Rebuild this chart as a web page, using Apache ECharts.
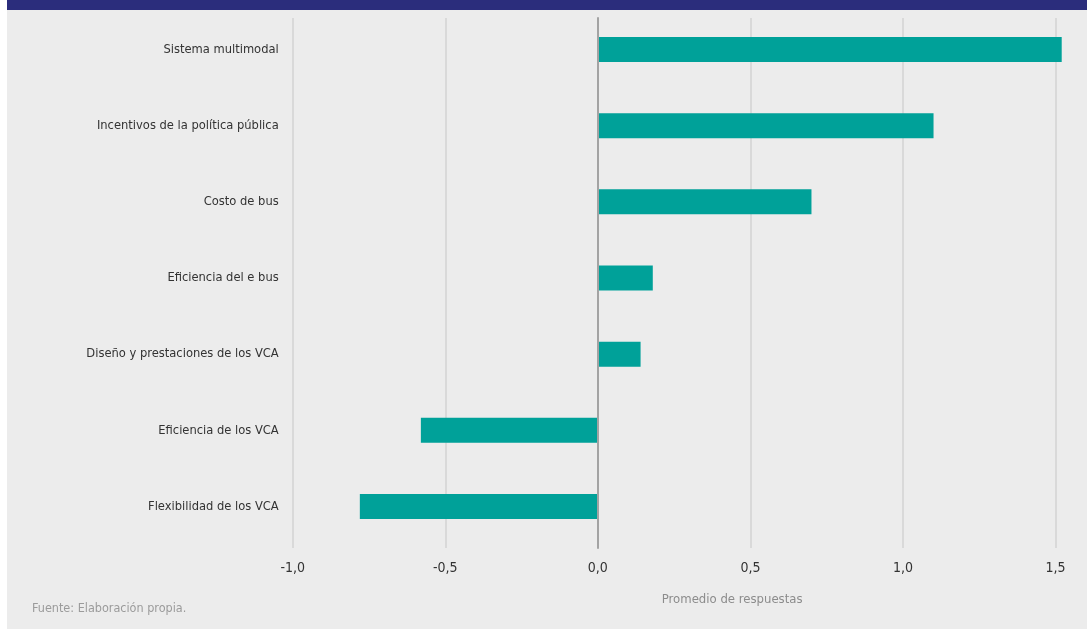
<!DOCTYPE html>
<html>
<head>
<meta charset="utf-8">
<script src="https://cdn.jsdelivr.net/npm/echarts@6/dist/echarts.min.js"></script>
<style>
  html, body { margin: 0; padding: 0; background: #ffffff; }
  #chart { width: 1087px; height: 631px; }
</style>
</head>
<body>
<div id="chart"></div>
<script>
// Factores evaluados (de arriba hacia abajo)
const categories = [
  'Sistema multimodal',
  'Incentivos de la política pública',
  'Costo de bus',
  'Eficiencia del e bus',
  'Diseño y prestaciones de los VCA',
  'Eficiencia de los VCA',
  'Flexibilidad de los VCA'
];
// Promedio de respuestas por factor
const values = [1.52, 1.10, 0.70, 0.18, 0.14, -0.58, -0.78];
// Escala del eje horizontal
const axisMin = -1.0;
const axisMax = 1.5;
const axisStep = 0.5;

const FONT = '"DejaVu Sans Condensed", "DejaVu Sans", sans-serif';
const chart = echarts.init(document.getElementById('chart'), null, { renderer: 'canvas' });

const fmt = v => v.toFixed(1).replace('.', ',');

chart.setOption({
  backgroundColor: '#ffffff',
  animation: false,
  textStyle: { fontFamily: FONT },
  graphic: [
    { type: 'rect', z: -10, shape: { x: 7, y: 0, width: 1080, height: 629 }, style: { fill: '#ececec' } },
    { type: 'rect', z: -9, shape: { x: 7, y: 0, width: 1080, height: 10 }, style: { fill: '#2b2d7c' } },
    { type: 'text', left: 32, top: 602, style: { text: 'Fuente: Elaboración propia.', fill: '#9b9b9b', fontSize: 12.5, fontFamily: FONT } }
  ],
  grid: [
    { left: 292.7, right: 31.4, top: 11.5, height: 533 },
    { left: 292.7, right: 31.4, top: 18, height: 530 }
  ],
  xAxis: [
    {
      gridIndex: 0, type: 'value', min: axisMin, max: axisMax, interval: axisStep,
      axisLine: { show: false }, axisTick: { show: false }, axisLabel: { show: false }, splitLine: { show: false }
    },
    {
      gridIndex: 1, type: 'value', min: axisMin, max: axisMax, interval: axisStep,
      axisLine: { show: false }, axisTick: { show: false },
      axisLabel: { color: '#333333', fontSize: 14, margin: 13, fontFamily: FONT, formatter: fmt },
      splitLine: { show: true, lineStyle: { color: '#d9d9d9', width: 2 } },
      name: 'Promedio de respuestas', nameLocation: 'middle', nameGap: 45,
      nameTextStyle: { color: '#8c8c8c', fontSize: 13, fontFamily: FONT, padding: [0, 0, 0, 116] }
    }
  ],
  yAxis: [
    {
      gridIndex: 0, type: 'category', data: categories, inverse: true,
      axisLine: { show: false }, axisTick: { show: false },
      axisLabel: { color: '#333333', fontSize: 12.8, margin: 14, fontFamily: FONT },
      splitLine: { show: false }
    },
    {
      gridIndex: 1, type: 'value', min: 0, max: 1, z: 5,
      axisLine: { show: true, onZero: true, lineStyle: { color: '#a3a3a3', width: 2 } },
      axisTick: { show: false }, axisLabel: { show: false }, splitLine: { show: false }
    }
  ],
  series: [
    {
      type: 'bar', xAxisIndex: 0, yAxisIndex: 0, data: values, barWidth: 25, clip: false,
      itemStyle: { color: '#00a199' }
    }
  ]
});
</script>
</body>
</html>
